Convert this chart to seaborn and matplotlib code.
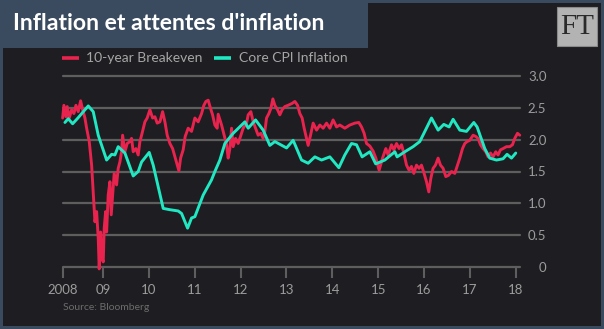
import matplotlib
matplotlib.use("Agg")
import matplotlib.pyplot as plt
import seaborn as sns
import pandas as pd
from matplotlib.patches import Rectangle
from matplotlib.lines import Line2D

# ---------------- data ----------------
series_names = ["10-year Breakeven", "Core CPI Inflation"]

cpi_t = [2008.172, 2008.244, 2008.340, 2008.455, 2008.680, 2008.789, 2008.898,
         2009.081, 2009.190, 2009.261, 2009.333, 2009.479, 2009.660, 2009.769,
         2009.843, 2010.009, 2010.096, 2010.314, 2010.460, 2010.641, 2010.715,
         2010.845, 2010.932, 2011.004, 2011.185, 2011.368, 2011.440, 2011.549,
         2011.658, 2011.839, 2012.094, 2012.166, 2012.327, 2012.492, 2012.638,
         2012.747, 2013.002, 2013.146, 2013.329, 2013.473, 2013.619, 2013.765,
         2013.946, 2014.142, 2014.272, 2014.418, 2014.527, 2014.649, 2014.817,
         2014.945, 2015.144, 2015.362, 2015.412, 2015.580, 2015.760, 2015.906,
         2016.161, 2016.305, 2016.429, 2016.545, 2016.632, 2016.778, 2016.924,
         2017.083, 2017.155, 2017.322, 2017.431, 2017.577, 2017.721, 2017.808,
         2017.904, 2017.998]
cpi_v = [2.27, 2.33, 2.25, 2.34, 2.53, 2.44, 2.07,
         1.68, 1.77, 1.76, 1.89, 1.79, 1.43, 1.50,
         1.65, 1.80, 1.60, 0.92, 0.90, 0.88, 0.84,
         0.61, 0.77, 0.79, 1.13, 1.37, 1.50, 1.68,
         1.94, 2.10, 2.28, 2.18, 2.31, 2.15, 1.91,
         1.97, 1.87, 1.99, 1.68, 1.63, 1.73, 1.68,
         1.73, 1.56, 1.76, 1.94, 1.92, 1.73, 1.81,
         1.62, 1.68, 1.81, 1.73, 1.81, 1.89, 1.97,
         2.34, 2.15, 2.24, 2.20, 2.32, 2.15, 2.13,
         2.27, 2.20, 1.86, 1.71, 1.68, 1.70, 1.77,
         1.71, 1.79]

be_t = [2008.122, 2008.150, 2008.194, 2008.222, 2008.266, 2008.318, 2008.368,
        2008.412, 2008.462, 2008.514, 2008.558, 2008.608, 2008.645, 2008.702,
        2008.754, 2008.789, 2008.826, 2008.863, 2008.898, 2008.919, 2008.950,
        2008.978, 2009.007, 2009.028, 2009.059, 2009.081, 2009.115, 2009.153,
        2009.181, 2009.211, 2009.246, 2009.298, 2009.333, 2009.370, 2009.407,
        2009.429, 2009.479, 2009.529, 2009.588, 2009.625, 2009.660, 2009.719,
        2009.769, 2009.806, 2009.843, 2009.915, 2009.965, 2010.024, 2010.083,
        2010.133, 2010.183, 2010.242, 2010.301, 2010.351, 2010.401, 2010.460,
        2010.519, 2010.569, 2010.619, 2010.656, 2010.693, 2010.749, 2010.793,
        2010.858, 2010.932, 2011.004, 2011.076, 2011.150, 2011.200, 2011.244,
        2011.294, 2011.346, 2011.390, 2011.440, 2011.490, 2011.512, 2011.550,
        2011.586, 2011.643, 2011.695, 2011.730, 2011.767, 2011.804, 2011.839,
        2011.891, 2011.948, 2012.007, 2012.057, 2012.131, 2012.166, 2012.224,
        2012.275, 2012.327, 2012.383, 2012.442, 2012.492, 2012.529, 2012.566,
        2012.617, 2012.660, 2012.704, 2012.747, 2012.806, 2012.856, 2012.906,
        2012.965, 2013.037, 2013.124, 2013.183, 2013.242, 2013.292, 2013.342,
        2013.386, 2013.438, 2013.473, 2013.525, 2013.582, 2013.656, 2013.728,
        2013.800, 2013.874, 2013.946, 2014.017, 2014.092, 2014.163, 2014.272,
        2014.381, 2014.490, 2014.577, 2014.636, 2014.693, 2014.745, 2014.817,
        2014.889, 2014.948, 2015.020, 2015.094, 2015.166, 2015.216, 2015.290,
        2015.340, 2015.399, 2015.455, 2015.508, 2015.558, 2015.617, 2015.673,
        2015.725, 2015.776, 2015.834, 2015.891, 2015.943, 2016.000, 2016.052,
        2016.102, 2016.146, 2016.196, 2016.248, 2016.305, 2016.357, 2016.414,
        2016.473, 2016.532, 2016.597, 2016.669, 2016.728, 2016.778, 2016.837,
        2016.887, 2016.937, 2016.996, 2017.068, 2017.126, 2017.176, 2017.229,
        2017.285, 2017.344, 2017.394, 2017.447, 2017.503, 2017.562, 2017.612,
        2017.664, 2017.721, 2017.795, 2017.867, 2017.926, 2017.976, 2018.035,
        2018.085]
be_v = [2.34, 2.54, 2.36, 2.52, 2.34, 2.47, 2.41,
        2.54, 2.44, 2.61, 2.47, 2.34, 2.18, 1.97,
        1.60, 1.18, 0.71, 0.87, 0.45, -0.03, 0.55,
        0.14, 0.08, 0.61, 0.87, 0.55, 1.13, 1.34,
        0.82, 1.13, 1.47, 1.29, 1.55, 1.65, 1.81,
        2.07, 1.81, 1.94, 1.97, 2.02, 1.81, 1.86,
        1.76, 1.97, 2.07, 2.28, 2.34, 2.47, 2.34,
        2.36, 2.26, 2.28, 2.44, 2.28, 2.07, 1.94,
        1.86, 1.73, 1.60, 1.51, 1.71, 1.84, 2.05,
        2.18, 2.13, 2.34, 2.28, 2.41, 2.54, 2.60,
        2.62, 2.49, 2.39, 2.23, 2.18, 2.40, 2.31,
        2.23, 2.07, 1.92, 1.71, 1.86, 2.18, 1.89,
        2.02, 1.94, 2.07, 2.18, 2.26, 2.39, 2.44,
        2.28, 2.18, 2.07, 2.10, 2.02, 2.13, 2.34,
        2.41, 2.49, 2.64, 2.54, 2.47, 2.39, 2.47,
        2.52, 2.54, 2.57, 2.60, 2.54, 2.41, 2.34,
        2.18, 2.02, 1.91, 2.07, 2.26, 2.15, 2.23,
        2.18, 2.26, 2.18, 2.31, 2.20, 2.23, 2.18,
        2.23, 2.26, 2.27, 2.20, 2.10, 1.94, 1.90,
        1.82, 1.71, 1.52, 1.71, 1.86, 1.76, 1.92,
        1.84, 1.94, 1.86, 1.92, 1.79, 1.60, 1.52,
        1.58, 1.47, 1.60, 1.55, 1.60, 1.47, 1.34,
        1.18, 1.39, 1.55, 1.60, 1.71, 1.60, 1.55,
        1.42, 1.44, 1.50, 1.47, 1.60, 1.71, 1.86,
        1.94, 1.97, 1.99, 2.07, 2.05, 2.02, 1.92,
        1.86, 1.81, 1.73, 1.79, 1.73, 1.81, 1.76,
        1.84, 1.86, 1.89, 1.89, 1.92, 2.02, 2.10,
        2.07]

x_ticks = [2008.13, 2009, 2010, 2011, 2012, 2013, 2014, 2015, 2016, 2017, 2018]
x_labels = ["2008", "09", "10", "11", "12", "13", "14", "15", "16", "17", "18"]
y_ticks = [0, 0.5, 1.0, 1.5, 2.0, 2.5, 3.0]
y_labels = ["0", "0.5", "1.0", "1.5", "2.0", "2.5", "3.0"]

title = "Inflation et attentes d'inflation"
source = "Source: Bloomberg"

# ---------------- style ----------------
SLATE = "#3a4a5f"
DARK = "#1e1d21"
GRID = "#5e5e5e"
RED = "#e8234e"
TEAL = "#20e8c2"
LABEL = "#9c9c9c"
LEG = "#a6a6a6"

sns.set_theme(style="dark")
plt.rcParams["font.family"] = ["Lato", "DejaVu Sans"]

W, H = 604, 329
fig = plt.figure(figsize=(W / 100, H / 100), dpi=100)
fig.patch.set_facecolor(SLATE)

def fx(px):
    return px / W

def fy(py):
    return 1 - py / H

fig.add_artist(Rectangle((fx(3), fy(326)), fx(598), 323 / H,
                         transform=fig.transFigure, color=DARK, zorder=0, lw=0))
fig.add_artist(Rectangle((0, fy(48)), fx(368), 48 / H,
                         transform=fig.transFigure, color=SLATE, zorder=1, lw=0))
# FT logo box
fig.add_artist(Rectangle((fx(557), fy(46)), fx(40), 39 / H,
                         transform=fig.transFigure, facecolor="#b3b3b3",
                         edgecolor="#8a8a8a", lw=0.8, zorder=2))
fig.text(fx(577), fy(27), "FT", family=["Liberation Serif", "DejaVu Serif"],
         fontsize=21, color="#2a2a2a", ha="center", va="center", zorder=3)

# title fitted to its width
t = fig.text(fx(13), fy(24), title, color="white", fontsize=16,
             fontweight="bold", ha="left", va="center", zorder=3)
fig.canvas.draw()
wpx = t.get_window_extent().width
t.set_fontsize(16 * 312 / wpx)

# axes
ax = fig.add_axes([fx(63), fy(267), fx(520 - 63), (267 - 76) / H])
ax.set_facecolor("none")

df_be = pd.DataFrame({"date": be_t, "value": be_v, "series": series_names[0]})
df_cpi = pd.DataFrame({"date": cpi_t, "value": cpi_v, "series": series_names[1]})

for yv in y_ticks:
    ax.axhline(yv, color=GRID, lw=1.6, zorder=1)

sns.lineplot(data=df_be, x="date", y="value", color=RED, lw=2.1,
             estimator=None, sort=False, ax=ax, zorder=3)
sns.lineplot(data=df_cpi, x="date", y="value", color=TEAL, lw=2.1,
             estimator=None, sort=False, ax=ax, zorder=4)
for ln in ax.get_lines():
    ln.set_clip_on(False)

ax.set_xlim(2008.13, 2018.09)
ax.set_ylim(0, 3.0)
ax.set_xlabel("")
ax.set_ylabel("")
for s in ax.spines.values():
    s.set_visible(False)
ax.grid(False)

ax.set_xticks(x_ticks)
ax.set_xticklabels(x_labels)
ax.tick_params(axis="x", direction="out", length=8, width=1.5, color=GRID,
               labelcolor=LABEL, labelsize=9.5, pad=4, bottom=True)

ax.yaxis.tick_right()
ax.set_yticks(y_ticks)
ax.set_yticklabels(y_labels)
ax.tick_params(axis="y", length=0, labelcolor=LABEL, labelsize=9.5, pad=19)
for lab in ax.get_yticklabels():
    lab.set_ha("right")

# legend (manual placement)
fig.add_artist(Line2D([fx(62), fx(79)], [fy(58), fy(58)], color=RED, lw=2.6,
                      transform=fig.transFigure, solid_capstyle="butt"))
fig.text(fx(86), fy(58), series_names[0], color=LEG, fontsize=10,
         ha="left", va="center")
fig.add_artist(Line2D([fx(214), fx(231)], [fy(58), fy(58)], color=TEAL, lw=2.6,
                      transform=fig.transFigure, solid_capstyle="butt"))
fig.text(fx(239), fy(58), series_names[1], color=LEG, fontsize=10,
         ha="left", va="center")

fig.text(fx(63), fy(308), source, color="#6c6c6c", fontsize=7.5,
         ha="left", va="center")

fig.savefig("out.png", dpi=100, facecolor=fig.get_facecolor())
